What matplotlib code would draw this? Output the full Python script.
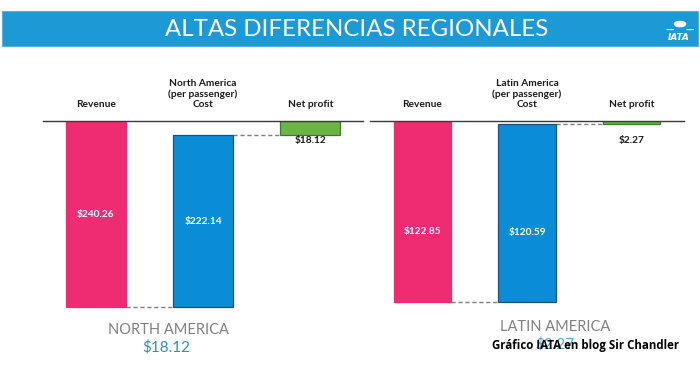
import matplotlib
matplotlib.use("Agg")
import matplotlib.pyplot as plt
from matplotlib.patches import Rectangle, Circle

# ---- data ----
categories = ["Revenue", "Cost", "Net profit"]
na_values = [240.26, 222.14, 18.12]   # revenue, cost, net profit (North America)
la_values = [122.85, 120.59, 2.27]    # revenue, cost, net profit (Latin America)
panel_titles = ["North America\n(per passenger)", "Latin America\n(per passenger)"]
region_names = ["NORTH AMERICA", "LATIN AMERICA"]
title = "ALTAS DIFERENCIAS REGIONALES"
credit = "Gráfico IATA en blog Sir Chandler"

W, H = 700, 367
fig = plt.figure(figsize=(W / 100, H / 100), dpi=100)
fig.patch.set_facecolor("white")

def fx(px):
    return px / W

def fy(py):
    return 1 - py / H

# Title banner
fig.patches.append(Rectangle((fx(2), fy(46)), fx(698) - fx(2), fy(11) - fy(46),
                             transform=fig.transFigure, facecolor="#1c9ad6",
                             edgecolor="#4cb3e6", lw=0.8, zorder=0))
fig.text(fx(357), fy(29), title, color="white", fontsize=17.3, family="Lato",
         fontweight="normal", ha="center", va="center")
# IATA logo (simplified)
fig.text(fx(679), fy(38), "IATA", color="white", fontsize=6.5, family="DejaVu Sans",
         fontweight="bold", style="italic", ha="center", va="center")
fig.patches.append(Circle((fx(680), fy(24)), 0.009, transform=fig.transFigure,
                          facecolor="white", edgecolor="none"))
fig.text(fx(680), fy(29.5), "—    —", color="white", fontsize=6, ha="center", va="center",
         fontweight="bold")

PINK = "#ef2b72"
BLUE = "#0a8dd6"
GREEN = "#6bb545"

label_font = dict(family=["Lato", "DejaVu Sans"], fontweight="bold", fontsize=7.3, color="#1a1a1a")

def panel(rect, values, ptitle, xlim, width, ylim_px, scale, inner_frac):
    x0, x1, ytop, ybot = rect
    ax = fig.add_axes([fx(x0), fy(ybot), fx(x1) - fx(x0), fy(ytop) - fy(ybot)])
    rev, cost, net = values
    pos = [0, 1, 2]
    bottoms = [0, net, 0]
    heights = [rev, cost, net]
    colors = [PINK, BLUE, GREEN]
    edges = [PINK, "#1f4e79", "#3d7a2a"]
    ax.bar(pos, heights, bottom=bottoms, width=width, color=colors,
           edgecolor=edges, linewidth=0.9, zorder=2)
    ax.set_xlim(*xlim)
    ax.set_ylim(ylim_px / scale, 0)
    for s in ax.spines.values():
        s.set_visible(False)
    ax.set_xticks([])
    ax.set_yticks([])
    ax.patch.set_alpha(0)
    # baseline
    ax.plot(xlim, [0, 0], color="#3a3a3a", lw=1.0, zorder=3, clip_on=False)
    # dashed connectors
    ax.plot([0 + width / 2, 1 - width / 2], [rev, rev], ls=(0, (3, 2)), color="#7f7f7f",
            lw=1.0, zorder=1, clip_on=False)
    ax.plot([1 + width / 2, 2 - width / 2], [net, net], ls=(0, (3, 2)), color="#7f7f7f",
            lw=1.0, zorder=1, clip_on=False)
    # category labels
    for i, c in enumerate(categories):
        txt = c if i != 1 else ptitle + "\n" + c
        ax.annotate(txt, (i, 0), xytext=(0, 8.5), textcoords="offset points",
                    ha="center", va="bottom", linespacing=1.2, **label_font)
    # values inside bars
    ax.text(0, rev * inner_frac, f"${rev:.2f}", color="white", ha="center", va="center",
            family=["Lato", "DejaVu Sans"], fontweight="bold", fontsize=7.3, zorder=4)
    ax.text(1, net + cost * inner_frac, f"${cost:.2f}", color="white", ha="center",
            va="center", family=["Lato", "DejaVu Sans"], fontweight="bold", fontsize=7.3,
            zorder=4)
    ax.annotate(f"${net:.2f}", (2, 0), xytext=(0, -14), textcoords="offset points",
                ha="center", va="center", **label_font)
    return ax

panel((43, 363, 121, 310), na_values, panel_titles[0],
      (-0.49, 2.49), 0.56, 189, 186 / na_values[0], 0.5)
panel((370, 684, 121, 305), la_values, panel_titles[1],
      (-0.50, 2.50), 0.55, 184, 181 / la_values[0], 0.61)

# bottom region summaries
fig.text(fx(168), fy(330), region_names[0], color="#808080", fontsize=10.5,
         family="Lato", fontweight="normal", ha="center", va="center")
fig.text(fx(166), fy(347), f"${na_values[2]:.2f}", color="#2a8fd0", fontsize=11,
         family="Lato", ha="center", va="center")
fig.text(fx(555), fy(327), region_names[1], color="#808080", fontsize=10.5,
         family="Lato", fontweight="normal", ha="center", va="center")
fig.text(fx(555), fy(344), f"${la_values[2]:.2f}", color="#2a8fd0", fontsize=11,
         family="Lato", ha="center", va="center", alpha=0.8)
fig.text(fx(586), fy(345), credit, color="black", fontsize=8.3, family="Open Sans",
         fontweight="bold", ha="center", va="center")

fig.savefig("out.png", dpi=100, facecolor="white")
